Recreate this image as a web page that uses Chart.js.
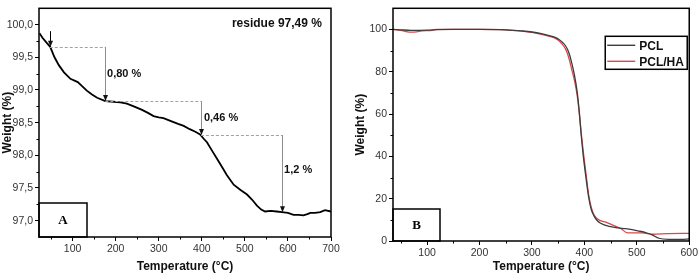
<!DOCTYPE html>
<html>
<head>
<meta charset="utf-8">
<script src="https://cdn.jsdelivr.net/npm/chart.js@4.4.1/dist/chart.umd.min.js"></script>
<style>
  html, body { margin: 0; padding: 0; background: #fff; }
  #wrap { position: relative; width: 700px; height: 274px; }
  #chartA { position: absolute; left: 0; top: 0; }
  #chartB { position: absolute; left: 350px; top: 0; }
</style>
</head>
<body>
<div id="wrap">
  <canvas id="chartA" width="350" height="274"></canvas>
  <canvas id="chartB" width="350" height="274"></canvas>
</div>
<script>
// ---------------------------------------------
// Panel A: TGA curve of the HA powder
// ---------------------------------------------
const tempA = [23, 30, 40, 48, 58, 68, 80, 95, 112, 122, 133, 145, 157, 176, 195, 211, 226, 242, 260, 275,
  288, 300, 311, 330, 345, 358, 372, 385, 396, 405, 412, 423, 435, 447, 458, 474, 490, 505, 517, 528,
  538, 547, 560, 574, 586, 600, 613, 625, 636, 645, 652, 663, 675, 686, 700];
const weightA = [99.87, 99.80, 99.72, 99.66, 99.50, 99.38, 99.27, 99.17, 99.12, 99.06, 98.99, 98.93, 98.88, 98.83, 98.82, 98.81, 98.79, 98.75, 98.70, 98.65,
  98.60, 98.58, 98.57, 98.52, 98.48, 98.45, 98.40, 98.36, 98.32, 98.25, 98.20, 98.08, 97.95, 97.82, 97.70, 97.55, 97.47, 97.40, 97.32, 97.23,
  97.17, 97.14, 97.15, 97.14, 97.13, 97.12, 97.09, 97.09, 97.08, 97.10, 97.12, 97.12, 97.13, 97.16, 97.14];

const xTicksA = [100, 200, 300, 400, 500, 600, 700];
const xMinorA = [50, 150, 250, 350, 450, 550, 650];
const yTicksA = [97.0, 97.5, 98.0, 98.5, 99.0, 99.5, 100.0];
const yMinorA = [97.25, 97.75, 98.25, 98.75, 99.25, 99.75];

// weight-loss steps (dashed guides + arrows)
const dashLevel = [99.66, 98.83, 98.31];
const dashFrom = [47, 176, 398];
const dashTo = [176, 398, 587];
const arrowTemp = [47, 176, 398, 587];
const arrowFrom = [99.90, 99.66, 98.83, 98.31];
const arrowTo = [99.66, 98.83, 98.31, 97.13];
const lossText = ["0,80 %", "0,46 %", "1,2 %"];
const lossTextTemp = [180, 405, 591];
const lossTextWeight = [99.24, 98.57, 97.78];
const residueText = "residue 97,49 %";

// ---------------------------------------------
// Panel B: PCL vs PCL/HA
// ---------------------------------------------
const tempPCL = [35, 50, 70, 100, 120, 150, 200, 250, 280, 300, 320, 335, 343, 351, 358, 364, 368, 372, 375, 378,
  381, 386, 390, 394, 398, 403, 408, 413, 418, 424, 431, 447, 465, 479, 504, 518, 530, 542, 561, 585, 600];
const weightPCL = [100, 99.8, 99.6, 99.7, 99.9, 100, 100, 99.8, 99.3, 98.8, 97.9, 97.0, 96.4, 95.4, 94.0, 92.3, 90.5, 87.8, 85.0, 82.0,
  78.5, 71.0, 62.0, 50.0, 40.0, 30.0, 21.0, 15.0, 12.0, 9.8, 8.4, 6.9, 6.2, 5.8, 4.7, 3.9, 2.8, 1.3, 0.8, 0.8, 1.0];

const tempHA = [35, 50, 60, 70, 80, 90, 110, 118, 150, 200, 250, 280, 300, 320, 335, 343, 351, 358, 364, 368,
  372, 375, 378, 381, 386, 390, 394, 398, 403, 408, 413, 418, 424, 431, 441, 453, 470, 482, 510, 530, 560, 600];
const weightHA = [100.1, 99.6, 99.0, 98.7, 98.9, 99.3, 99.6, 100, 100, 100, 99.8, 99.2, 98.6, 97.6, 96.6, 96.0, 94.8, 93.0, 90.8, 88.4,
  85.0, 82.0, 79.0, 76.0, 69.3, 61.0, 51.0, 42.0, 32.0, 22.0, 16.0, 12.5, 10.6, 9.6, 8.9, 7.6, 5.8, 3.8, 3.8, 3.2, 3.5, 3.6];

const xTicksB = [100, 200, 300, 400, 500, 600];
const xMinorB = [50, 150, 250, 350, 450, 550];
const yTicksB = [0, 20, 40, 60, 80, 100];
const yMinorB = [10, 30, 50, 70, 90];

const seriesNames = ["PCL", "PCL/HA"];
const seriesColors = ["#3d3d3d", "#d9484c"];

const FONT = "'Liberation Sans', Arial, sans-serif";
const tickFont = { family: FONT, size: 10.5 };
const titleFont = { family: FONT, size: 12, weight: "bold" };

function toPoints(xs, ys) {
  return xs.map((x, i) => ({ x: x, y: ys[i] }));
}

// frame + minor ticks, shared by both panels
const framePlugin = {
  id: "frame",
  afterDraw(chart, args, opts) {
    const ctx = chart.ctx;
    const a = chart.chartArea;
    const xs = chart.scales.x;
    const ys = chart.scales.y;
    ctx.save();
    ctx.strokeStyle = "#000";
    ctx.lineWidth = 1;
    ctx.beginPath();
    opts.xMinor.forEach((v) => {
      const px = Math.round(xs.getPixelForValue(v)) + 0.5;
      ctx.moveTo(px, a.bottom);
      ctx.lineTo(px, a.bottom + 2.5);
    });
    opts.yMinor.forEach((v) => {
      const py = Math.round(ys.getPixelForValue(v)) + 0.5;
      ctx.moveTo(a.left, py);
      ctx.lineTo(a.left - 2.5, py);
    });
    ctx.stroke();
    ctx.lineWidth = 1.5;
    ctx.strokeRect(a.left, a.top, a.right - a.left, a.bottom - a.top);

    // panel letter box in lower-left corner
    ctx.strokeRect(a.left, a.bottom - opts.boxH, opts.boxW, opts.boxH);
    ctx.fillStyle = "#000";
    ctx.font = "bold 13px 'Liberation Serif', 'Times New Roman', serif";
    ctx.textAlign = "center";
    ctx.textBaseline = "middle";
    ctx.fillText(opts.letter, a.left + opts.boxW / 2, a.bottom - opts.boxH / 2 + 1);
    ctx.restore();
  },
};

function arrowHead(ctx, x, y) {
  ctx.beginPath();
  ctx.moveTo(x, y);
  ctx.lineTo(x - 2.5, y - 6);
  ctx.lineTo(x + 2.5, y - 6);
  ctx.closePath();
  ctx.fill();
}

// weight-loss annotations for panel A
const stepsPlugin = {
  id: "steps",
  afterDatasetsDraw(chart) {
    const ctx = chart.ctx;
    const xs = chart.scales.x;
    const ys = chart.scales.y;
    ctx.save();
    ctx.strokeStyle = "#d98a8f";
    ctx.lineWidth = 1;
    ctx.setLineDash([3, 2]);
    dashLevel.forEach((lv, i) => {
      const py = Math.round(ys.getPixelForValue(lv)) + 0.5;
      ctx.beginPath();
      ctx.moveTo(xs.getPixelForValue(dashFrom[i]), py);
      ctx.lineTo(xs.getPixelForValue(dashTo[i]), py);
      ctx.stroke();
    });
    ctx.setLineDash([]);
    arrowTemp.forEach((t, i) => {
      const px = Math.round(xs.getPixelForValue(t)) + 0.5;
      const y0 = ys.getPixelForValue(arrowFrom[i]);
      const y1 = ys.getPixelForValue(arrowTo[i]);
      ctx.strokeStyle = i === 0 ? "#000" : "#8c8c8c";
      ctx.beginPath();
      ctx.moveTo(px, y0);
      ctx.lineTo(px, y1 - 3);
      ctx.stroke();
      ctx.fillStyle = "#111";
      arrowHead(ctx, px, y1);
    });
    ctx.fillStyle = "#111";
    ctx.font = "bold 11px " + FONT;
    ctx.textAlign = "left";
    ctx.textBaseline = "middle";
    lossText.forEach((txt, i) => {
      ctx.fillText(txt, xs.getPixelForValue(lossTextTemp[i]), ys.getPixelForValue(lossTextWeight[i]));
    });
    ctx.font = "bold 12px " + FONT;
    ctx.textAlign = "right";
    ctx.fillText(residueText, xs.getPixelForValue(679), ys.getPixelForValue(100.02));
    ctx.restore();
  },
};

// boxed legend for panel B
const boxLegendPlugin = {
  id: "boxLegend",
  afterDraw(chart) {
    const ctx = chart.ctx;
    const a = chart.chartArea;
    const bx = a.right - 84;
    const by = a.top + 28;
    ctx.save();
    ctx.strokeStyle = "#000";
    ctx.lineWidth = 1.5;
    ctx.strokeRect(bx, by, 82, 33);
    ctx.font = "bold 12px " + FONT;
    ctx.textAlign = "left";
    ctx.textBaseline = "middle";
    chart.data.datasets.forEach((ds, i) => {
      const ry = by + 9 + i * 16;
      ctx.strokeStyle = ds.borderColor;
      ctx.lineWidth = 1.4;
      ctx.beginPath();
      ctx.moveTo(bx + 2, ry);
      ctx.lineTo(bx + 30, ry);
      ctx.stroke();
      ctx.fillStyle = "#111";
      ctx.fillText(ds.label, bx + 34, ry + 1);
    });
    ctx.restore();
  },
};

function axisOptions(cfg) {
  return {
    x: {
      type: "linear",
      min: cfg.xMin,
      max: cfg.xMax,
      afterBuildTicks: (s) => { s.ticks = cfg.xTicks.map((v) => ({ value: v })); },
      afterFit: (s) => { s.height = cfg.xHeight; },
      grid: { drawOnChartArea: false, drawTicks: true, tickLength: 4, color: "#000" },
      border: { display: false },
      ticks: { font: tickFont, color: "#333", padding: 2, maxRotation: 0 },
      title: { display: true, text: "Temperature (°C)", font: titleFont, color: "#111", padding: { top: 0, bottom: 0 } },
    },
    y: {
      min: cfg.yMin,
      max: cfg.yMax,
      afterBuildTicks: (s) => { s.ticks = cfg.yTicks.map((v) => ({ value: v })); },
      afterFit: (s) => { s.width = cfg.yWidth; },
      grid: { drawOnChartArea: false, drawTicks: true, tickLength: 4, color: "#000" },
      border: { display: false },
      ticks: { font: tickFont, color: "#333", padding: 2, callback: cfg.yFormat },
      title: { display: true, text: "Weight (%)", font: titleFont, color: "#111", padding: { top: cfg.yTitlePad, bottom: 0 } },
    },
  };
}

new Chart(document.getElementById("chartA"), {
  type: "line",
  data: {
    datasets: [{
      data: toPoints(tempA, weightA),
      borderColor: "#000",
      borderWidth: 1.8,
      pointRadius: 0,
      tension: 0,
    }],
  },
  options: {
    responsive: false,
    animation: false,
    layout: { padding: { top: 2, right: 19, left: 0, bottom: 0 } },
    scales: axisOptions({
      xMin: 22, xMax: 700, xTicks: xTicksA, xHeight: 37,
      yMin: 96.75, yMax: 100.25, yTicks: yTicksA, yWidth: 39, yTitlePad: 0,
      yFormat: (v) => v.toFixed(1).replace(".", ","),
    }),
    plugins: {
      legend: { display: false },
      tooltip: { enabled: false },
      frame: { xMinor: xMinorA, yMinor: yMinorA, boxW: 48, boxH: 34, letter: "A" },
    },
  },
  plugins: [framePlugin, stepsPlugin],
});

new Chart(document.getElementById("chartB"), {
  type: "line",
  data: {
    datasets: [
      {
        label: seriesNames[0],
        data: toPoints(tempPCL, weightPCL),
        borderColor: seriesColors[0],
        borderWidth: 1.3,
        pointRadius: 0,
        cubicInterpolationMode: "monotone",
      },
      {
        label: seriesNames[1],
        data: toPoints(tempHA, weightHA),
        borderColor: seriesColors[1],
        borderWidth: 1.3,
        pointRadius: 0,
        cubicInterpolationMode: "monotone",
      },
    ],
  },
  options: {
    responsive: false,
    animation: false,
    layout: { padding: { top: 1, right: 9, left: 0, bottom: 0 } },
    scales: axisOptions({
      xMin: 35, xMax: 600, xTicks: xTicksB, xHeight: 33,
      yMin: 0, yMax: 110, yTicks: yTicksB, yWidth: 43, yTitlePad: 3,
      yFormat: (v) => String(v),
    }),
    plugins: {
      legend: { display: false },
      tooltip: { enabled: false },
      frame: { xMinor: xMinorB, yMinor: yMinorB, boxW: 47, boxH: 32, letter: "B" },
    },
  },
  plugins: [framePlugin, boxLegendPlugin],
});
</script>
</body>
</html>
